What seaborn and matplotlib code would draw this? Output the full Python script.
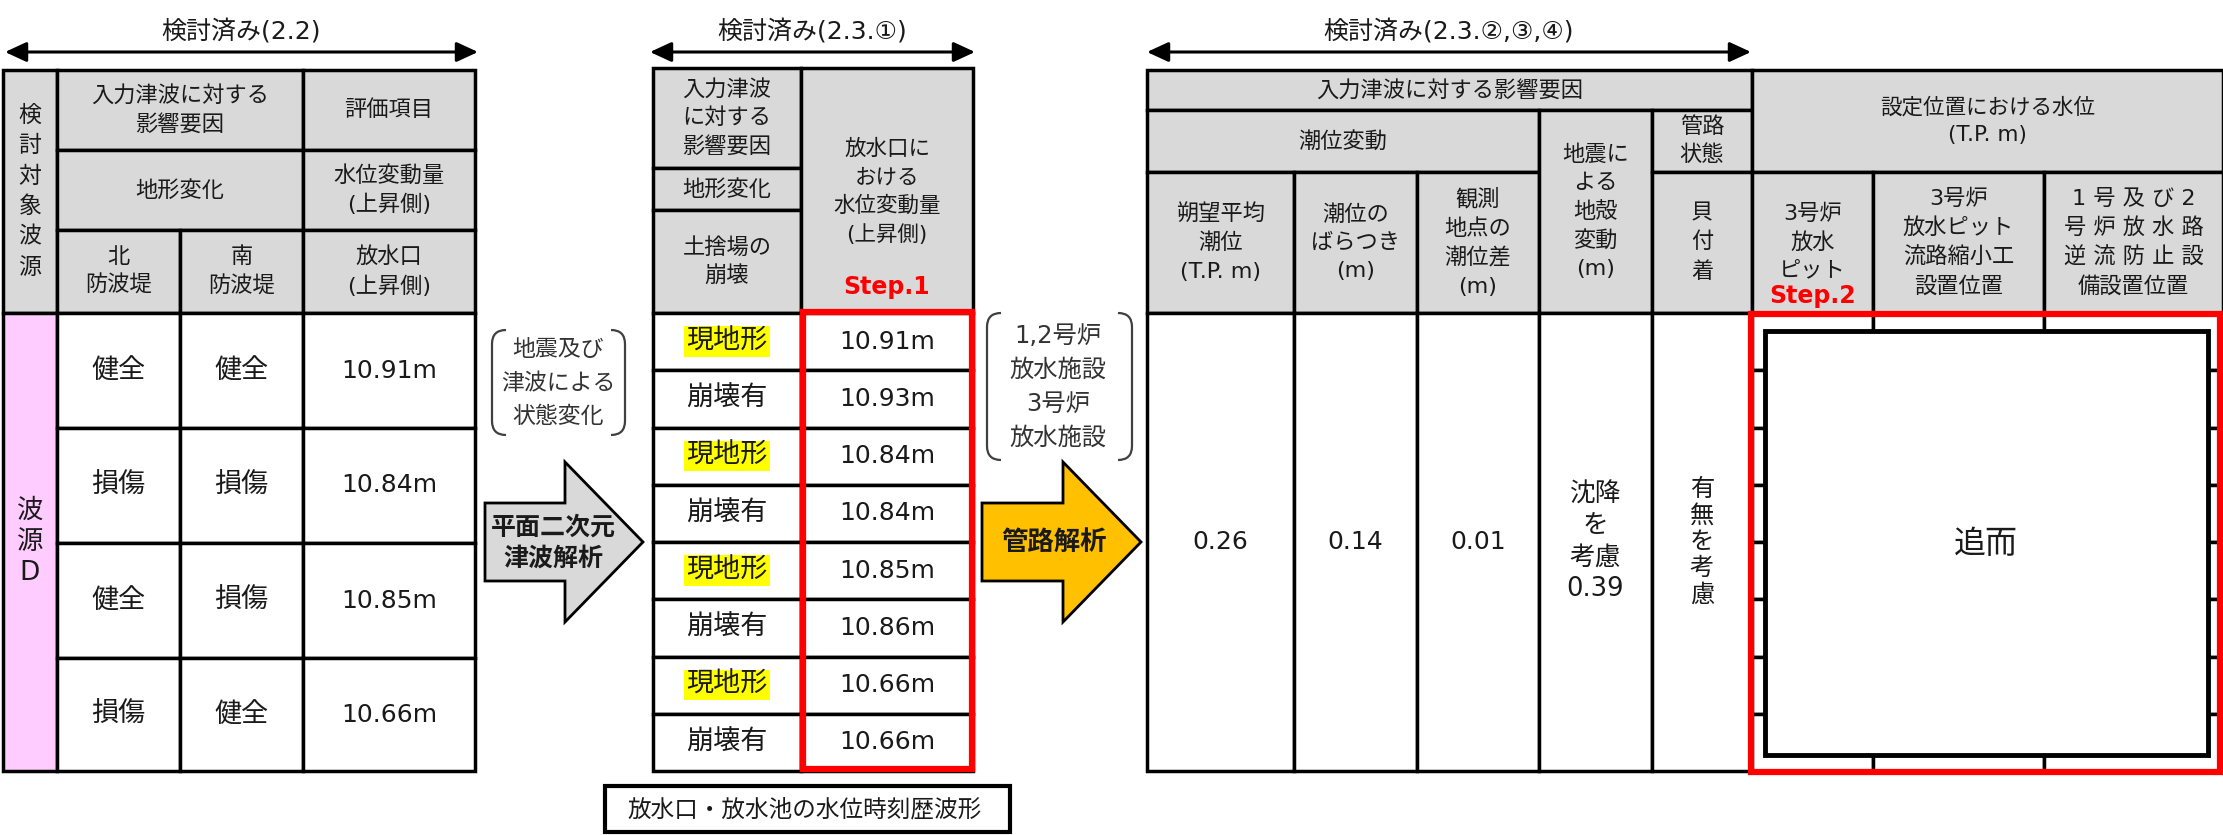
import matplotlib
matplotlib.use('Agg')
import matplotlib.pyplot as plt
import seaborn as sns
from matplotlib.patches import Rectangle, Polygon, PathPatch
from matplotlib.path import Path

sns.set_theme(style='white')
plt.rcParams['font.family'] = ['DejaVu Sans', 'Noto Sans CJK JP']

# ---- data ----
north_wall = ['健全', '損傷', '健全', '損傷']
south_wall = ['健全', '損傷', '損傷', '健全']
outlet_rise = [10.91, 10.84, 10.85, 10.66]

dump_state = ['現地形', '崩壊有', '現地形', '崩壊有', '現地形', '崩壊有', '現地形', '崩壊有']
outlet_rise_2 = [10.91, 10.93, 10.84, 10.84, 10.85, 10.86, 10.66, 10.66]

tide_mean = 0.26
tide_var = 0.14
tide_diff = 0.01
subsidence = 0.39

titles = ['検討済み(2.2)', '検討済み(2.3.①)', '検討済み(2.3.②,③,④)']

# ---- colours ----
GRAY = '#D9D9D9'
PINK = '#FFCCFF'
RED = '#FF0000'
YELLOW = '#FFFF00'
ORANGE = '#FFC000'
TXT = '#1a1a1a'

fig = plt.figure(figsize=(22.23, 8.35), dpi=100)
ax = fig.add_axes([0, 0, 1, 1])
ax.set_xlim(0, 2223)
ax.set_ylim(835, 0)
ax.axis('off')


def cell(x0, x1, y0, y1, txt='', fc='white', fs=16, ls=1.5, **kw):
    ax.add_patch(Rectangle((x0, y0), x1 - x0, y1 - y0, facecolor=fc,
                           edgecolor='black', lw=2.5, zorder=1))
    if txt:
        ax.text((x0 + x1) / 2, (y0 + y1) / 2, txt, ha='center', va='center',
                fontsize=fs, linespacing=ls, color=kw.pop('color', TXT), zorder=3, **kw)


def vert(s):
    return '\n'.join(s)


def span_arrow(x0, x1, y, title):
    ax.annotate('', xy=(x1, y), xytext=(x0, y),
                arrowprops=dict(arrowstyle='<|-|>,head_length=0.65,head_width=0.3',
                                color='black', lw=2.2, mutation_scale=20,
                                shrinkA=0, shrinkB=0))
    ax.text((x0 + x1) / 2, y - 21, title, ha='center', va='center',
            fontsize=18, color=TXT)


def bracket(x0, x1, y0, y1, r=14):
    for xa, sgn in [(x0, 1), (x1, -1)]:
        verts = [(xa + sgn * r, y0), (xa, y0), (xa, y0 + r), (xa, y1 - r),
                 (xa, y1), (xa + sgn * r, y1)]
        codes = [Path.MOVETO, Path.CURVE3, Path.CURVE3, Path.LINETO,
                 Path.CURVE3, Path.CURVE3]
        ax.add_patch(PathPatch(Path(verts, codes), fc='none', ec='#404040', lw=1.6))


def block_arrow(x0, xh, xt, yc, shaft, head, fc):
    pts = [(x0, yc - shaft), (xh, yc - shaft), (xh, yc - head), (xt, yc),
           (xh, yc + head), (xh, yc + shaft), (x0, yc + shaft)]
    ax.add_patch(Polygon(pts, closed=True, fc=fc, ec='black', lw=2, zorder=2))


# ================= left table =================
LX = [3, 57, 180, 303, 475]
LH = [70, 150, 230, 313]
LR = [313, 428, 543, 658, 771]

span_arrow(5, 478, 52, titles[0])
cell(LX[0], LX[1], LH[0], LH[3], vert('検討対象波源'), GRAY, fs=16.5, ls=1.42)
cell(LX[1], LX[3], LH[0], LH[1], '入力津波に対する\n影響要因', GRAY, ls=1.47)
cell(LX[3], LX[4], LH[0], LH[1], '評価項目', GRAY)
cell(LX[1], LX[3], LH[1], LH[2], '地形変化', GRAY)
cell(LX[3], LX[4], LH[1], LH[2], '水位変動量\n(上昇側)', GRAY, ls=1.47)
cell(LX[1], LX[2], LH[2], LH[3], '北\n防波堤', GRAY, ls=1.47)
cell(LX[2], LX[3], LH[2], LH[3], '南\n防波堤', GRAY, ls=1.47)
cell(LX[3], LX[4], LH[2], LH[3], '放水口\n(上昇側)', GRAY, ls=1.47)

cell(LX[0], LX[1], LR[0], LR[-1], vert('波源D'), PINK, fs=19, ls=1.25)
for i in range(4):
    y0, y1 = LR[i], LR[i + 1]
    cell(LX[1], LX[2], y0, y1, north_wall[i], fs=19.5)
    cell(LX[2], LX[3], y0, y1, south_wall[i], fs=19.5)
    cell(LX[3], LX[4], y0, y1, f'{outlet_rise[i]:.2f}m', fs=18)

# ================= between left and middle =================
bracket(492, 625, 330, 435)
ax.text(558, 383, '地震及び\n津波による\n状態変化', ha='center', va='center',
        fontsize=16.5, linespacing=1.6, color='#333333')
block_arrow(485, 565, 643, 542, 39, 80, GRAY)
ax.text(553, 543, '平面二次元\n津波解析', ha='center', va='center', fontsize=18,
        fontweight='bold', linespacing=1.38, color=TXT, zorder=3)

# ================= middle table =================
MX = [653, 801, 973]
MH = [68, 168, 210, 313]
MR0, MR1 = 313, 771
n2 = len(outlet_rise_2)
rh = (MR1 - MR0) / n2

span_arrow(650, 975, 52, titles[1])
cell(MX[0], MX[1], MH[0], MH[1], '入力津波\nに対する\n影響要因', GRAY, ls=1.47)
cell(MX[0], MX[1], MH[1], MH[2], '地形変化', GRAY)
cell(MX[0], MX[1], MH[2], MH[3], '土捨場の\n崩壊', GRAY, ls=1.47)
cell(MX[1], MX[2], MH[0], MH[3], '', GRAY)
ax.text((MX[1] + MX[2]) / 2, 192, '放水口に\nおける\n水位変動量\n(上昇側)', ha='center',
        va='center', fontsize=15.5, linespacing=1.5, color=TXT, zorder=3)
ax.text((MX[1] + MX[2]) / 2, 287, 'Step.1', ha='center', va='center', fontsize=17,
        fontweight='bold', color=RED, zorder=3)

for i in range(n2):
    y0 = MR0 + i * rh
    cell(MX[0], MX[1], y0, y0 + rh)
    cell(MX[1], MX[2], y0, y0 + rh, f'{outlet_rise_2[i]:.2f}m', fs=18)
    hl = dict(facecolor=YELLOW, edgecolor='none', pad=1.5) if dump_state[i] == '現地形' else None
    ax.text((MX[0] + MX[1]) / 2, y0 + rh / 2, dump_state[i], ha='center', va='center',
            fontsize=19.5, color=TXT, bbox=hl, zorder=3)
ax.add_patch(Rectangle((803, 312), 169, 457, fc='none', ec=RED, lw=4.5, zorder=4))

# bottom caption box
ax.add_patch(Rectangle((605, 786), 405, 46, fc='white', ec='black', lw=3, zorder=2))
ax.text(627, 809, '放水口・放水池の水位時刻歴波形', ha='left', va='center',
        fontsize=17, color=TXT, zorder=3)

# ================= between middle and right =================
bracket(987, 1132, 313, 460)
ax.text(1058, 387, '1,2号炉\n放水施設\n3号炉\n放水施設', ha='center', va='center',
        fontsize=17.5, linespacing=1.52, color='#333333')
block_arrow(982, 1063, 1141, 542, 39, 80, ORANGE)
ax.text(1054, 543, '管路解析', ha='center', va='center', fontsize=19,
        fontweight='bold', color=TXT, zorder=3)

# ================= right table =================
RX = [1147, 1294, 1417, 1539, 1652, 1752, 1873, 2044, 2223]
RH = [70, 110, 172, 313]
RR0, RR1 = 313, 771

span_arrow(1147, 1751, 52, titles[2])
cell(RX[0], RX[5], RH[0], RH[1], '入力津波に対する影響要因', GRAY)
cell(RX[0], RX[3], RH[1], RH[2], '潮位変動', GRAY)
cell(RX[0], RX[1], RH[2], RH[3], '朔望平均\n潮位\n(T.P. m)', GRAY, ls=1.52)
cell(RX[1], RX[2], RH[2], RH[3], '潮位の\nばらつき\n(m)', GRAY, ls=1.52)
cell(RX[2], RX[3], RH[2], RH[3], '観測\n地点の\n潮位差\n(m)', GRAY, ls=1.5)
cell(RX[3], RX[4], RH[1], RH[3], '地震に\nよる\n地殻\n変動\n(m)', GRAY, ls=1.48)
cell(RX[4], RX[5], RH[1], RH[2], '管路\n状態', GRAY, ls=1.42)
cell(RX[4], RX[5], RH[2], RH[3], vert('貝付着'), GRAY, ls=1.5)
cell(RX[5], RX[8], RH[0], RH[2], '設定位置における水位\n(T.P. m)', GRAY, fs=15.5, ls=1.5)
cell(RX[5], RX[6], RH[2], RH[3], '', GRAY)
ax.text((RX[5] + RX[6]) / 2, 242, '3号炉\n放水\nピット', ha='center', va='center',
        fontsize=16, linespacing=1.5, color=TXT, zorder=3)
ax.text((RX[5] + RX[6]) / 2, 296, 'Step.2', ha='center', va='center', fontsize=17,
        fontweight='bold', color=RED, zorder=3)
cell(RX[6], RX[7], RH[2], RH[3], '3号炉\n放水ピット\n流路縮小工\n設置位置', GRAY, ls=1.5)
cell(RX[7], RX[8], RH[2], RH[3], '1 号 及 び 2\n号 炉 放 水 路\n逆 流 防 止 設\n備設置位置', GRAY, ls=1.5)

cell(RX[0], RX[1], RR0, RR1, f'{tide_mean:.2f}', fs=18)
cell(RX[1], RX[2], RR0, RR1, f'{tide_var:.2f}', fs=18)
cell(RX[2], RX[3], RR0, RR1, f'{tide_diff:.2f}', fs=18)
cell(RX[3], RX[4], RR0, RR1, f'沈降\nを\n考慮\n{subsidence:.2f}', fs=18.5, ls=1.28)
cell(RX[4], RX[5], RR0, RR1, vert('有無を考慮'), fs=17.5, ls=1.12)

# pending (追而) block: underlying 8-row grid, then covering box
for i in range(n2):
    y0 = RR0 + i * rh
    for j in range(5, 8):
        cell(RX[j], RX[j + 1], y0, y0 + rh)
ax.add_patch(Rectangle((1765, 331), 443, 424, fc='white', ec='black', lw=3.5, zorder=3))
ax.text(1986, 545, '追而', ha='center', va='center', fontsize=23, color=TXT, zorder=4)
ax.add_patch(Rectangle((1751, 314), 469, 458, fc='none', ec=RED, lw=4.5, zorder=5))

fig.savefig('out.png', dpi=100, facecolor='white')
